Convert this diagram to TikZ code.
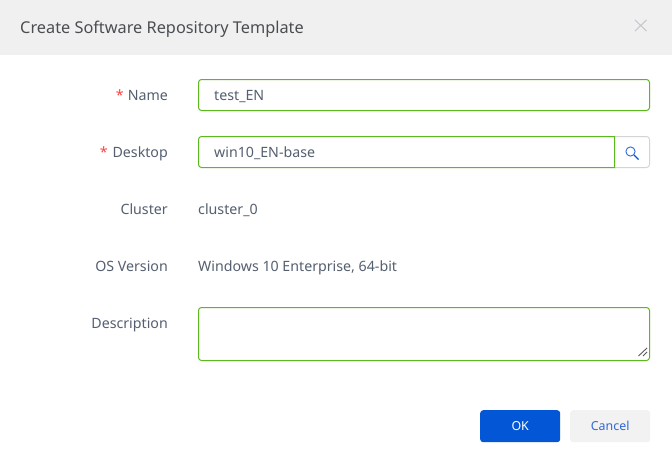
\documentclass[tikz,border=0pt]{standalone}
\usepackage{fontspec}
\setmainfont{Noto Sans}
\definecolor{headgray}{HTML}{F0F0F0}
\definecolor{titletext}{HTML}{4A4D52}
\definecolor{labeltext}{HTML}{545F70}
\definecolor{fieldgreen}{HTML}{5CB81E}
\definecolor{okblue}{HTML}{0357D6}
\definecolor{cancelgray}{HTML}{F2F2F3}
\definecolor{linkblue}{HTML}{2F68D8}
\definecolor{closegray}{HTML}{C6C9CE}
\definecolor{edgegray}{HTML}{D4D4D4}
\tikzset{
	field/.style={draw=fieldgreen, line width=1pt, rounded corners=3pt, anchor=north west, inner sep=0pt},
	label/.style={anchor=base east, inner sep=0pt, text=labeltext, font=\fontsize{14.2}{16}\selectfont},
	value/.style={anchor=base west, inner sep=0pt, text=labeltext, font=\fontsize{14.2}{16}\selectfont},
	star/.style={anchor=base east, inner sep=0pt, text=red!75!white, font=\fontsize{14.2}{16}\selectfont},
	button/.style={rounded corners=3pt, anchor=north west, inner sep=0pt, font=\fontsize{12.4}{14}\selectfont}
}
\begin{document}
\begin{tikzpicture}[x=1pt,y=-1pt]
	\useasboundingbox (0,0) rectangle (672,461);
	\fill[white] (0,0) rectangle (672,461);

	% header
	\fill[headgray] (0,0) rectangle (672,55);
	\node[anchor=base west, inner sep=0pt, text=titletext, font=\fontsize{16.3}{18}\selectfont] (title) at (20,33) {Create Software Repository Template};
	\draw[closegray, line width=1.1pt] (635,20) -- (646.5,31) (646.5,20) -- (635,31);

	% labels
	\node[label] (name) at (168,100) {Name};
	\node[star] (namestar) at (124,100) {*};
	\node[label] (desktop) at (168,157) {Desktop};
	\node[star] (desktopstar) at (108,157) {*};
	\node[label] (cluster) at (168,214) {Cluster};
	\node[label] (os) at (168,271) {OS Version};
	\node[label] (descr) at (168,328) {Description};

	% values
	\node[value] (clusterval) at (198,214) {cluster\_0};
	\node[value] (osval) at (198,271) {Windows 10 Enterprise, 64-bit};

	% fields
	\draw[edgegray, line width=1pt, rounded corners=3pt] (610,136.5) -- (649.5,136.5) -- (649.5,167.5) -- (610,167.5);
	\node[field, minimum width=451pt, minimum height=31pt] (namebox) at (198,79) {};
	\draw[fieldgreen, line width=1pt, rounded corners=3pt] (614.5,167.5) -- (198.5,167.5) -- (198.5,136.5) [sharp corners] -- (614.5,136.5) -- cycle;
	\node[field, minimum width=451pt, minimum height=53pt] (descrbox) at (198,307) {};
	\node[value] (nameval) at (214,100) {test\_EN};
	\node[value] (deskval) at (214,157) {win10\_EN-base};

	% search icon
	\draw[linkblue, line width=0.9pt] (630.5,151.5) circle (4.6pt);
	\draw[okblue, line width=1.4pt] (634,155) -- (638.5,159.5);

	% resize grip
	\draw[black!65, line width=0.9pt] (638.5,356) -- (647,348) (643,356) -- (647,352);

	% buttons
	\node[button, fill=okblue, text=white, minimum width=80pt, minimum height=32pt] (ok) at (480,410) {OK};
	\node[button, fill=cancelgray, text=linkblue, minimum width=80pt, minimum height=32pt] (cancel) at (570,410) {Cancel};
\end{tikzpicture}
\end{document}
